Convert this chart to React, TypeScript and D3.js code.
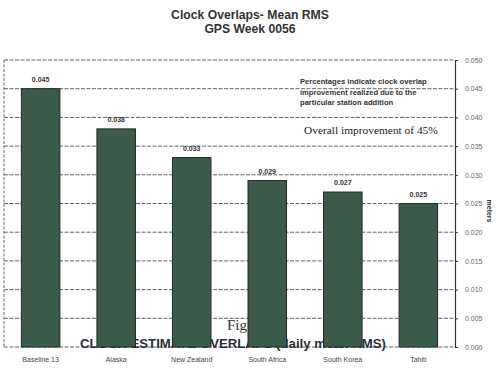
import { useEffect, useRef } from 'react';
import * as d3 from 'd3';

const stations = ['Baseline 13', 'Alaska', 'New Zealand', 'South Africa', 'South Korea', 'Tahiti'];
const meanRms = [0.045, 0.038, 0.033, 0.029, 0.027, 0.025];
const valueLabels = ['0.045', '0.038', '0.033', '0.029', '0.027', '0.025'];
const yTicks = [0, 0.005, 0.01, 0.015, 0.02, 0.025, 0.03, 0.035, 0.04, 0.045, 0.05];
const noteLines = ['Percentages indicate clock overlap', 'improvement realized due to the', 'particular station addition'];

const W = 500, H = 369;
const left = 4, right = 455, top = 60, bottom = 347;

export default function App() {
    const axisRef = useRef<SVGGElement>(null);

    const x = d3.scaleBand().domain(stations).range([left, right]).paddingInner(0.49).paddingOuter(0.23);
    const y = d3.scaleLinear().domain([0, 0.05]).range([bottom, top]);

    useEffect(() => {
        if (!axisRef.current) return;
        const g = d3.select(axisRef.current);
        g.selectAll('*').remove();
        g.call(d3.axisRight(y).tickValues(yTicks).tickFormat(d3.format('.3f')).tickSize(3).tickPadding(7));
        g.select('.domain').attr('stroke', '#2a3440').attr('stroke-width', 1.2);
        g.selectAll('.tick line').attr('stroke', '#2a3440');
        g.selectAll('.tick text').attr('font-size', 7).attr('fill', '#666')
            .attr('font-family', 'Arial, "Liberation Sans", sans-serif');
    }, []);

    const sans = 'Arial, "Liberation Sans", sans-serif';
    const serif = '"Times New Roman", "Liberation Serif", serif';

    return (
        <svg width={W} height={H} style={{ position: 'absolute', left: 0, top: 0, background: '#fff' }}>
            <text x={250} y={19} textAnchor="middle" fontFamily={sans} fontWeight={700} fontSize={12.2} fill="#333">
                Clock Overlaps- Mean RMS
            </text>
            <text x={250} y={33} textAnchor="middle" fontFamily={sans} fontWeight={700} fontSize={12.2} fill="#333">
                GPS Week 0056
            </text>

            {/* plot frame and grid */}
            {yTicks.map(t => (
                <line key={t} x1={left} x2={right} y1={y(t)} y2={y(t)}
                    stroke="#5a6676" strokeWidth={1} strokeDasharray="4,1.5" />
            ))}
            <line x1={left} x2={left} y1={top} y2={bottom} stroke="#5a6676" strokeDasharray="3,1.5" />

            {/* overlaid caption sits behind the bars */}
            <text x={227} y={330} fontFamily={serif} fontSize={15} fill="#333">
                Figure
            </text>
            <text x={233} y={348} textAnchor="middle" fontFamily={sans} fontWeight={700} fontSize={13.2} fill="#2a2f3a">
                CLOCK ESTIMATE OVERLAPS (daily mean RMS)
            </text>

            {stations.map((s, i) => (
                <g key={s}>
                    <rect x={x(s)} y={y(meanRms[i])} width={x.bandwidth()} height={bottom - y(meanRms[i])}
                        fill="#3c5a49" stroke="#1f2a28" strokeWidth={1} />
                    <text x={(x(s) ?? 0) + x.bandwidth() / 2} y={y(meanRms[i]) - 7} textAnchor="middle"
                        fontFamily={sans} fontWeight={700} fontSize={7} fill="#333">
                        {valueLabels[i]}
                    </text>
                    <text x={(x(s) ?? 0) + x.bandwidth() / 2} y={362} textAnchor="middle"
                        fontFamily={sans} fontSize={7} fill="#444">
                        {s}
                    </text>
                </g>
            ))}

            {noteLines.map((t, i) => (
                <text key={t} x={300} y={84 + i * 10.5} fontFamily={sans} fontWeight={700} fontSize={7.6} fill="#333">
                    {t}
                </text>
            ))}
            <text x={304} y={134} fontFamily={serif} fontSize={11.4} fill="#222">
                Overall improvement of 45%
            </text>

            <g ref={axisRef} transform={`translate(${right},0)`} />
            <text transform="translate(487,211) rotate(90)" textAnchor="middle" fontFamily={sans}
                fontWeight={700} fontSize={7} fill="#333">
                meters
            </text>
        </svg>
    );
}
